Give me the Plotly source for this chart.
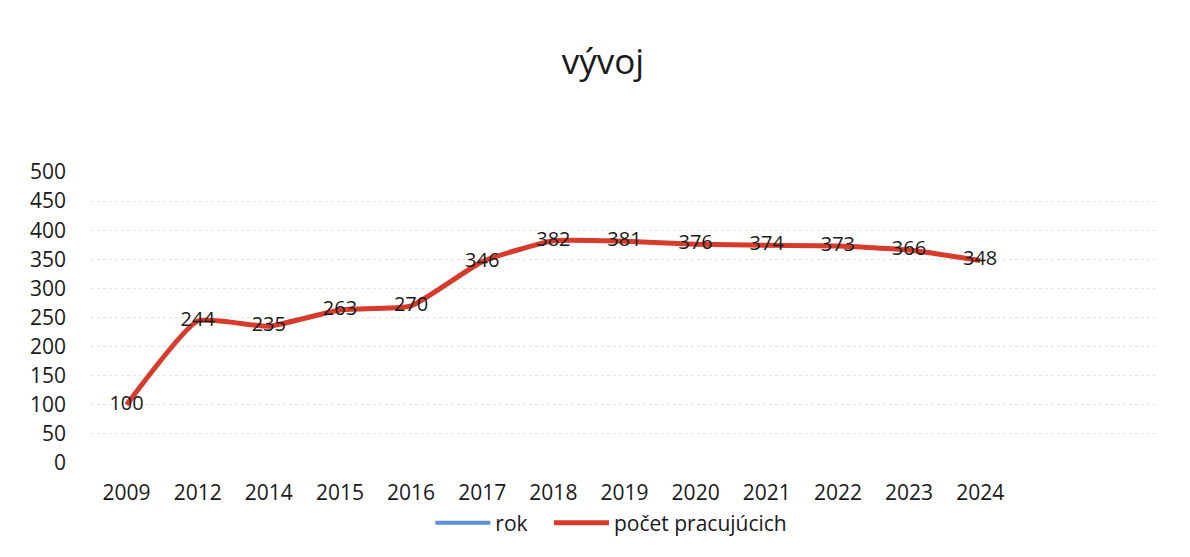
import plotly.graph_objects as go

categories = ["2009", "2012", "2014", "2015", "2016", "2017", "2018",
              "2019", "2020", "2021", "2022", "2023", "2024"]
rok = [2009, 2012, 2014, 2015, 2016, 2017, 2018, 2019, 2020, 2021, 2022, 2023, 2024]
pocet = [100, 244, 235, 263, 270, 346, 382, 381, 376, 374, 373, 366, 348]
y_ticks = [0, 50, 100, 150, 200, 250, 300, 350, 400, 450, 500]

FONT = "Open Sans, Noto Sans, sans-serif"

fig = go.Figure()
fig.add_trace(go.Scatter(
    x=categories, y=rok, name="rok\u00a0\u00a0\u00a0", mode="lines",
    line=dict(color="#5b8fd6", width=4, shape="spline"),
))
fig.add_trace(go.Scatter(
    x=categories, y=pocet, name="počet pracujúcich", mode="lines+text",
    line=dict(color="#d63b2b", width=5, shape="spline", smoothing=0.45),
    text=[str(v) for v in pocet], textposition="middle center",
    textfont=dict(size=20, color="#1a1a1a", family=FONT),
    cliponaxis=False,
))

fig.update_layout(
    width=1190, height=557,
    paper_bgcolor="white", plot_bgcolor="white",
    margin=dict(l=83, r=40, t=164, b=102, autoexpand=False),
    title=dict(text="vývoj", x=0.5, xanchor="center", yref="container",
               y=0.903, yanchor="middle",
               font=dict(size=35, color="#1a1a1a", family=FONT)),
    font=dict(family=FONT, color="#1a1a1a"),
    showlegend=True,
    legend=dict(orientation="h", xref="container", x=0.507, xanchor="center",
                yref="container", y=0.0754, yanchor="middle",
                font=dict(size=21, color="#1a1a1a", family=FONT),
                itemwidth=55, traceorder="normal"),
)
fig.update_xaxes(
    type="category", categoryorder="array", categoryarray=categories,
    range=[-0.5, 14.5], showgrid=False, showline=False, zeroline=False,
    tickfont=dict(size=21, color="#1a1a1a", family=FONT), ticks="",
    ticklabelstandoff=15, automargin=False,
)
fig.update_yaxes(
    range=[0, 500], tickvals=y_ticks, showgrid=True,
    gridcolor="#e4e4e4", griddash="dot", gridwidth=1.2,
    zeroline=False, showline=False, ticks="",
    tickfont=dict(size=21, color="#1a1a1a", family=FONT),
    ticklabelstandoff=24, automargin=False,
)

fig.write_html("out.html")
